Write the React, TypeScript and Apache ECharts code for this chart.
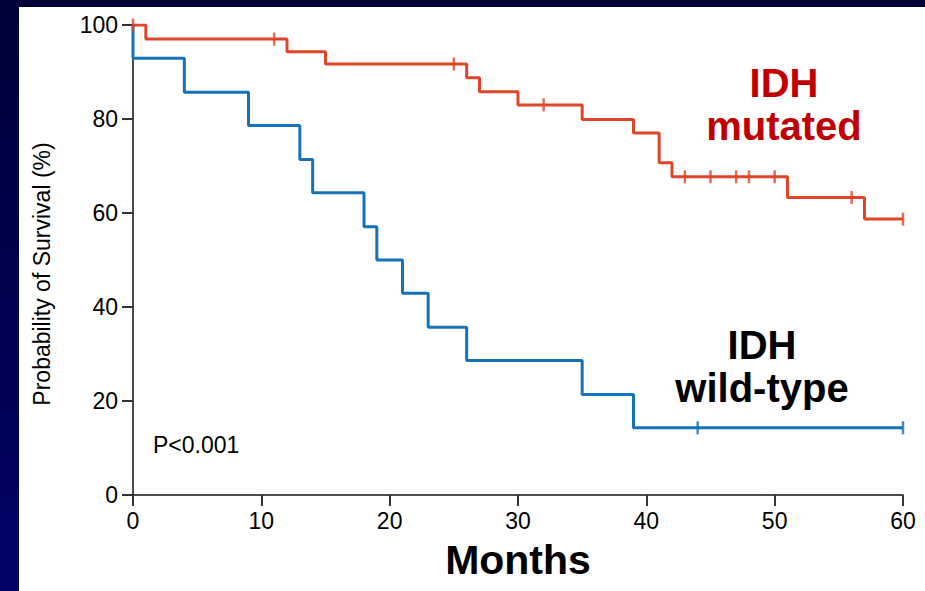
import React, { useEffect, useRef } from "react";
import * as echarts from "echarts";

// Kaplan–Meier step data (time in months, survival %)
const mutTimes = [0, 1, 12, 15, 26, 27, 30, 35, 39, 41, 42, 51, 57, 60];
const mutSurv = [100, 97.0, 94.3, 91.7, 88.8, 85.8, 83.0, 79.9, 77.0, 70.7, 67.7, 63.3, 58.7, 58.7];
const mutCensorTimes = [0, 11, 25, 32, 43, 45, 47, 48, 50, 56, 60];
const mutCensorSurv = [100, 97.0, 91.7, 83.0, 67.7, 67.7, 67.7, 67.7, 67.7, 63.3, 58.7];

const wtTimes = [0, 0, 4, 9, 13, 14, 18, 19, 21, 23, 26, 35, 39, 60];
const wtSurv = [100, 92.9, 85.7, 78.6, 71.4, 64.3, 57.1, 50.0, 42.9, 35.7, 28.6, 21.4, 14.3, 14.3];
const wtCensorTimes = [44, 60];
const wtCensorSurv = [14.3, 14.3];

const xTicks = [0, 10, 20, 30, 40, 50, 60];
const yTicks = [0, 20, 40, 60, 80, 100];

const FONT = "'Liberation Sans', Arial, Helvetica, sans-serif";
const RED_LINE = "#e04529";
const RED_TEXT = "#c00000";
const BLUE_LINE = "#1572b6";

const zip = (a: number[], b: number[]) => a.map((v, i) => [v, b[i]]);

export default function App() {
  const ref = useRef<HTMLDivElement>(null);
  useEffect(() => {
    if (!ref.current) return;
    const chart = echarts.init(ref.current, undefined, { renderer: "svg" });
    chart.setOption({
      animation: false,
      backgroundColor: "#ffffff",
      grid: { left: 133, right: 22, top: 25, bottom: 96, containLabel: false },
      xAxis: {
        type: "value",
        min: xTicks[0],
        max: xTicks[xTicks.length - 1],
        interval: 10,
        name: "Months",
        nameLocation: "middle",
        nameGap: 44,
        nameTextStyle: { fontFamily: FONT, fontSize: 41, fontWeight: "bold", color: "#000" },
        axisLine: { show: true, onZero: false, lineStyle: { color: "#111", width: 1.5 } },
        axisTick: { show: true, length: 11, lineStyle: { color: "#333", width: 2 } },
        axisLabel: { fontFamily: FONT, fontSize: 23, color: "#000", margin: 14 },
        splitLine: { show: false },
      },
      yAxis: {
        type: "value",
        min: yTicks[0],
        max: yTicks[yTicks.length - 1],
        interval: 20,
        axisLine: { show: true, lineStyle: { color: "#111", width: 1.5 } },
        axisTick: { show: true, length: 11, lineStyle: { color: "#333", width: 2 } },
        axisLabel: { fontFamily: FONT, fontSize: 23, color: "#000", margin: 15 },
        splitLine: { show: false },
      },
      graphic: [
        {
          type: "rect",
          silent: true,
          z: -10,
          shape: { x: 0, y: 0, width: 925, height: 7 },
          style: { fill: "#000038" },
        },
        {
          type: "rect",
          silent: true,
          z: -10,
          shape: { x: 0, y: 0, width: 19, height: 591 },
          style: {
            fill: new echarts.graphic.LinearGradient(0, 0, 0, 1, [
              { offset: 0, color: "#000038" },
              { offset: 1, color: "#000064" },
            ]),
          },
        },
        {
          type: "text",
          x: 42,
          y: 274,
          rotation: Math.PI / 2,
          style: {
            text: "Probability of Survival (%)",
            fontFamily: FONT,
            fontSize: 23,
            fill: "#000",
            align: "center",
            verticalAlign: "middle",
          },
        },
        {
          type: "text",
          x: 153,
          y: 445,
          style: {
            text: "P<0.001",
            fontFamily: FONT,
            fontSize: 23,
            fill: "#000",
            align: "left",
            verticalAlign: "middle",
          },
        },
        {
          type: "text",
          x: 784,
          y: 104.5,
          style: {
            text: "IDH\nmutated",
            fontFamily: FONT,
            fontSize: 40,
            fontWeight: "bold",
            lineHeight: 43,
            fill: RED_TEXT,
            align: "center",
            verticalAlign: "middle",
          },
        },
        {
          type: "text",
          x: 762,
          y: 366,
          style: {
            text: "IDH\nwild-type",
            fontFamily: FONT,
            fontSize: 40,
            fontWeight: "bold",
            lineHeight: 43,
            fill: "#000",
            align: "center",
            verticalAlign: "middle",
          },
        },
      ],
      series: [
        {
          name: "IDH wild-type",
          type: "line",
          step: "end",
          data: zip(wtTimes, wtSurv),
          showSymbol: false,
          symbol: "none",
          lineStyle: { color: BLUE_LINE, width: 3 },
          z: 2,
        },
        {
          name: "IDH wild-type censored",
          type: "scatter",
          data: zip(wtCensorTimes, wtCensorSurv),
          symbol: "rect",
          symbolSize: [2.5, 13],
          itemStyle: { color: BLUE_LINE },
          z: 3,
        },
        {
          name: "IDH mutated",
          type: "line",
          step: "end",
          data: zip(mutTimes, mutSurv),
          showSymbol: false,
          symbol: "none",
          lineStyle: { color: RED_LINE, width: 3 },
          z: 4,
        },
        {
          name: "IDH mutated censored",
          type: "scatter",
          data: zip(mutCensorTimes, mutCensorSurv),
          symbol: "rect",
          symbolSize: [2.5, 13],
          itemStyle: { color: RED_LINE },
          z: 5,
        },
      ],
    });
    return () => chart.dispose();
  }, []);
  return (
    <div
      ref={ref}
      style={{ position: "fixed", left: 0, top: 0, width: 925, height: 591 }}
    />
  );
}
